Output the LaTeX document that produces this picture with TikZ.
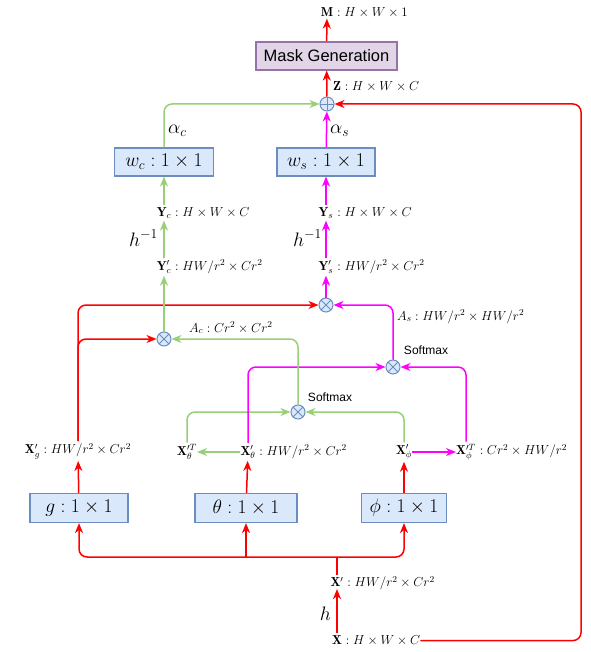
\RequirePackage{fix-cm}
\documentclass[tikz,border=0pt]{standalone}
\usepackage{amsmath}
\usepackage{fontspec}
\newfontfamily\helvfont{Liberation Sans}
\usetikzlibrary{arrows.meta,calc}
\definecolor{cred}{HTML}{FF0000}
\definecolor{cgreen}{HTML}{97D077}
\definecolor{cmag}{HTML}{FF00FF}
\definecolor{bfill}{HTML}{DAE8FC}
\definecolor{bdraw}{HTML}{6C8EBF}
\definecolor{pfill}{HTML}{E1D5E7}
\definecolor{pdraw}{HTML}{9673A6}
\newcommand\smlab{\fontsize{13}{15}\selectfont}
\newcommand\biglab{\fontsize{19.5}{22}\selectfont}
\tikzset{
  tip/.style={-{Stealth[length=10pt,width=8pt,inset=3pt]}},
  rline/.style={draw=cred,line width=1.5pt},
  gline/.style={draw=cgreen,line width=1.5pt},
  mline/.style={draw=cmag,line width=1.5pt},
  rarr/.style={rline,tip},
  garr/.style={gline,tip},
  marr/.style={mline,tip},
  lab/.style={inner xsep=0pt,inner ysep=2pt,font=\smlab},
  biglab/.style={inner sep=0pt,font=\biglab},
  bluebox/.style={draw=bdraw,fill=bfill,line width=1.1pt,minimum height=28pt,inner sep=0pt,font=\biglab},
  purplebox/.style={draw=pdraw,fill=pfill,line width=1.1pt,minimum height=28pt,minimum width=141pt,inner sep=0pt,font=\helvfont\fontsize{16.5}{18}\selectfont},
  opnode/.style={circle,draw=bdraw,fill=bfill,line width=1pt,minimum size=14pt,inner sep=0pt,
    path picture={\draw[bdraw,line width=0.9pt] (path picture bounding box.north) -- (path picture bounding box.south) (path picture bounding box.west) -- (path picture bounding box.east);}},
  otnode/.style={circle,draw=bdraw,fill=bfill,line width=1pt,minimum size=14pt,inner sep=0pt,
    path picture={\draw[bdraw,line width=0.9pt] (path picture bounding box.center) +(45:7.5pt) -- +(225:7.5pt) (path picture bounding box.center) +(135:7.5pt) -- +(-45:7.5pt);}},
  smax/.style={inner sep=0pt,font=\helvfont\fontsize{12}{14}\selectfont},
}
\begin{document}
\begin{tikzpicture}[x=1pt,y=-1pt]
\path[use as bounding box] (0,0) rectangle (590,652);

% top
\node[purplebox] (mask) at (326.5,56) {Mask Generation};
\node[lab] (M) at (327,12) {$\mathbf{M}$};
\node[lab,anchor=base west] (Mrest) at (M.base east) {${}: H\times W\times 1$};
\node[lab,anchor=base west] (zlab) at (333,91) {$\mathbf{Z}: H\times W\times C$};
\node[opnode] (sum) at (327,104) {};

% weight boxes
\node[bluebox,minimum width=99pt] (wc) at (164,162) {$w_c:1\times 1$};
\node[bluebox,minimum width=98pt] (ws) at (326,162) {$w_s:1\times 1$};
\node[biglab,anchor=base west] (alc) at (168,134) {$\alpha_c$};
\node[biglab,anchor=base west] (als) at (330,134) {$\alpha_s$};

% Y labels
\node[lab] (Yc) at (164,213) {$\mathbf{Y}_c$};
\node[lab,anchor=base west] (Ycr) at (Yc.base east) {${}: H\times W\times C$};
\node[lab] (Ypc) at (164,267) {$\mathbf{Y}'_c$};
\node[lab,anchor=base west] (Ypcr) at (Ypc.base east) {${}: HW/r^2\times Cr^2$};
\node[biglab,anchor=base east] (hic) at (158,246) {$h^{-1}$};
\node[lab] (Ys) at (326,213) {$\mathbf{Y}_s$};
\node[lab,anchor=base west] (Ysr) at (Ys.base east) {${}: H\times W\times C$};
\node[lab] (Yps) at (326,267) {$\mathbf{Y}'_s$};
\node[lab,anchor=base west] (Ypsr) at (Yps.base east) {${}: HW/r^2\times Cr^2$};
\node[biglab,anchor=base east] (his) at (322,246) {$h^{-1}$};

% products
\node[otnode] (oc) at (164,339) {};
\node[otnode] (os) at (326,305) {};
\node[otnode] (sg) at (298,412) {};
\node[otnode] (sm) at (393,367) {};
\node[smax] (smg) at (330,397) {Softmax};
\node[smax] (smm) at (426,350) {Softmax};
\node[lab,anchor=base west] (Ac) at (189,332) {$A_c: Cr^2\times Cr^2$};
\node[lab,anchor=base west] (As) at (397,320) {$A_s: HW/r^2\times HW/r^2$};

% X' labels
\node[lab] (Xg) at (78,451) {$\mathbf{X}'_g: HW/r^2\times Cr^2$};
\node[lab] (XTt) at (187,452) {$\mathbf{X}^{\prime T}_\theta$};
\node[lab] (Xt) at (248,452) {$\mathbf{X}'_\theta$};
\node[lab,anchor=base west] (Xtr) at (Xt.base east) {${}: HW/r^2\times Cr^2$};
\node[lab] (Xp) at (404,452) {$\mathbf{X}'_\phi$};
\node[lab] (XTp) at (466,452) {$\mathbf{X}^{\prime T}_\phi$};
\node[lab,anchor=base west] (XTpr) at (XTp.base east) {${}: Cr^2\times HW/r^2$};

% conv boxes
\node[bluebox,minimum width=98pt,minimum height=29pt] (g) at (79,508) {$g:1\times 1$};
\node[bluebox,minimum width=102pt,minimum height=29pt] (th) at (246,508) {$\theta:1\times 1$};
\node[bluebox,minimum width=85pt,minimum height=29pt] (ph) at (404,508) {$\phi:1\times 1$};

% bottom
\node[lab] (Xpr) at (337,582) {$\mathbf{X}'$};
\node[lab,anchor=base west] (Xprr) at (Xpr.base east) {${}: HW/r^2\times Cr^2$};
\node[lab] (X) at (337,640) {$\mathbf{X}$};
\node[lab,anchor=base west] (Xr) at (X.base east) {${}: H\times W\times C$};
\node[biglab,anchor=base east] (hh) at (331,620) {$h$};
\coordinate (bus) at (337,557);
\coordinate (rc) at (581,104);

% connectors: bottom
\draw[rarr] (X) -- (Xpr);
\draw[rline] (Xpr.north) -- (bus);
\draw[rarr,rounded corners=8pt] (bus) -| (g);
\draw[rarr,rounded corners=8pt] (bus) -| (ph);
\draw[rarr] (bus -| th) -- (th);
\draw[rarr,rounded corners=8pt] (Xr.east) -| (rc) -- (sum);

% boxes to X'
\draw[rarr] (g) -- (Xg);
\draw[rarr] (th) -- (Xt);
\draw[rarr] (ph) -- (Xp);
\draw[garr] (Xt) -- (XTt);
\draw[marr] (Xp) -- (XTp);

% softmax products
\draw[garr,rounded corners=8pt] (XTt.north) |- (sg);
\draw[garr,rounded corners=8pt] (Xp.north) |- (sg);
\draw[marr,rounded corners=8pt] (Xt.north) |- (sm);
\draw[marr,rounded corners=8pt] (XTp.north) |- (sm);
\draw[garr,rounded corners=8pt] (sg) |- (oc);
\draw[marr,rounded corners=8pt] (sm) |- (os);
\draw[rarr,rounded corners=8pt] (Xg.north) |- (oc);
\draw[rarr,rounded corners=8pt] (Xg.north) |- (os);

% up the columns
\draw[garr] (oc) -- (Ypc);
\draw[garr] (Ypc) -- (Yc);
\draw[garr] (Yc) -- (wc);
\draw[marr] (os) -- (Yps);
\draw[marr] (Yps) -- (Ys);
\draw[marr] (Ys) -- (ws);
\draw[garr,rounded corners=8pt] (wc.north) |- (sum);
\draw[marr] (ws) -- (sum);
\draw[rarr] (sum) -- (mask);
\draw[rarr] (mask) -- (M);
\end{tikzpicture}
\end{document}
